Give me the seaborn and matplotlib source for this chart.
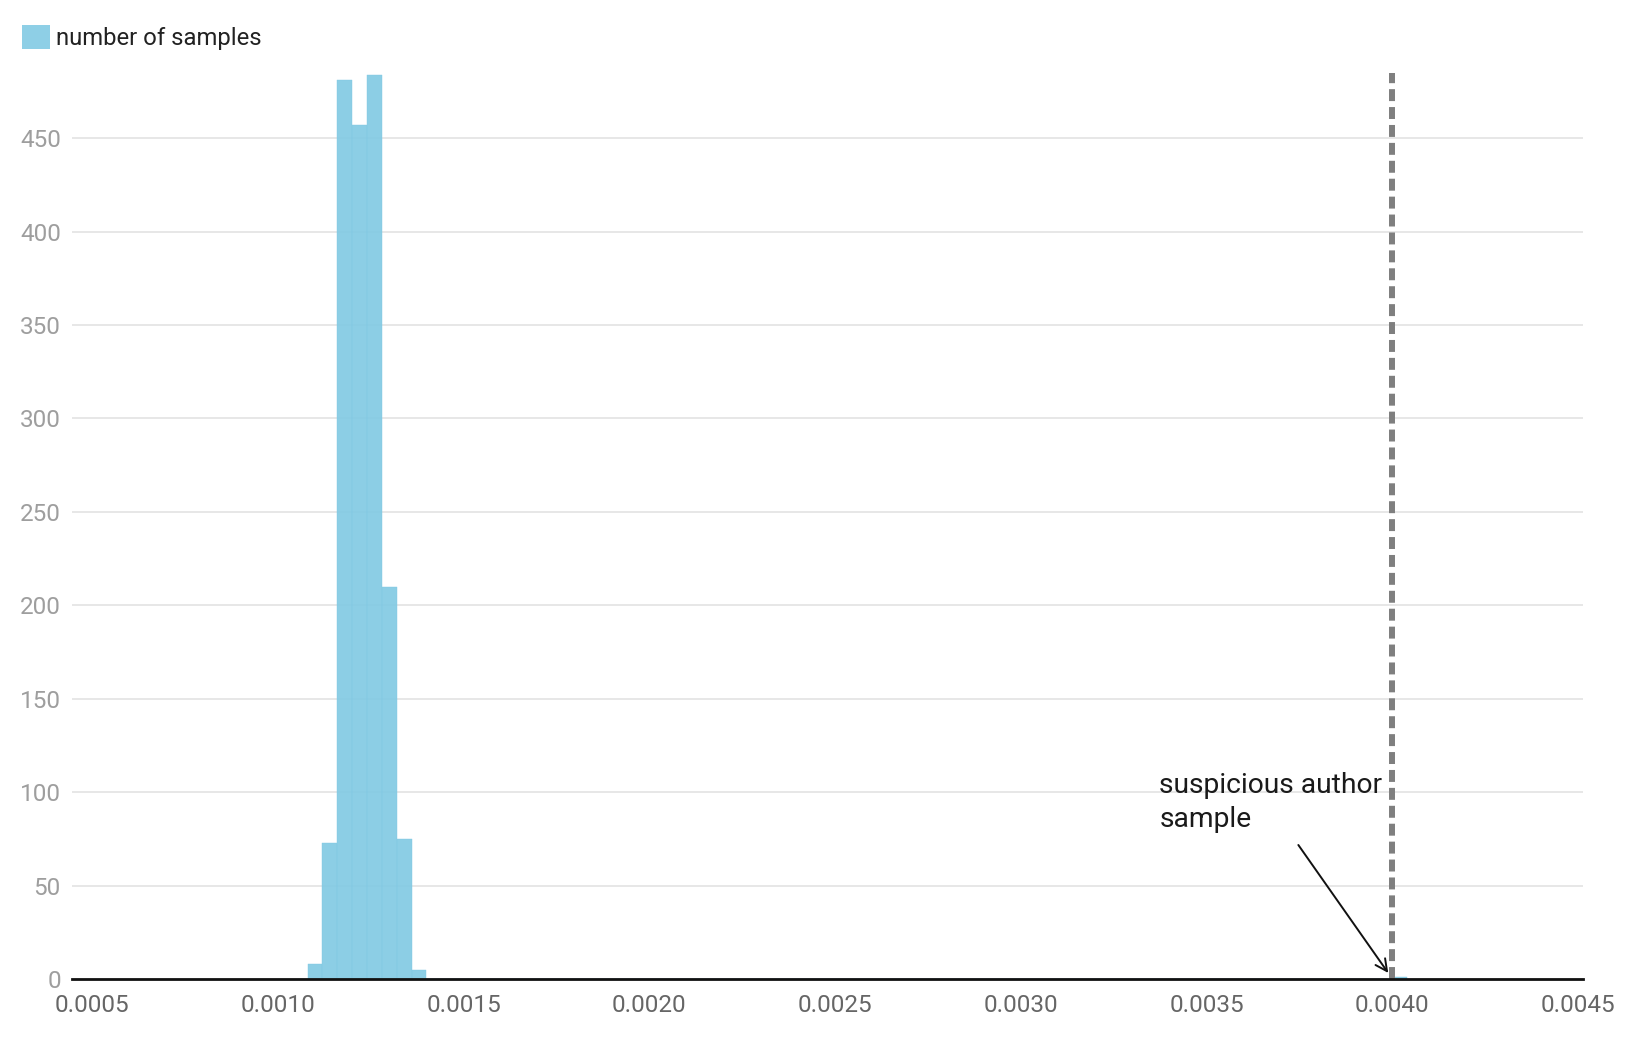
import matplotlib
matplotlib.use("Agg")
import matplotlib.pyplot as plt
from matplotlib.patches import Patch
import pandas as pd
import seaborn as sns

# histogram bins (left edges) and counts
bin_width = 0.00004
bin_lefts = [0.00108, 0.00112, 0.00116, 0.00120, 0.00124, 0.00128, 0.00132, 0.00136, 0.00400]
counts = [8, 73, 481, 457, 484, 210, 75, 5, 1]
suspicious_value = 0.0040

x_ticks = [0.0005, 0.0010, 0.0015, 0.0020, 0.0025, 0.0030, 0.0035, 0.0040, 0.0045]
y_ticks = [0, 50, 100, 150, 200, 250, 300, 350, 400, 450]

sns.set_theme(style="white")
plt.rcParams['font.family'] = ['Roboto', 'DejaVu Sans']

bar_color = "#80c9e3"
df = pd.DataFrame({"center": [b + bin_width / 2 for b in bin_lefts], "count": counts})

fig = plt.figure(figsize=(16.4, 10.4), dpi=100)
ax = fig.add_axes([0.0439, 0.0587, 0.9213, 0.8713])

sns.histplot(data=df, x="center", weights="count", binwidth=bin_width,
             binrange=(bin_lefts[0], bin_lefts[-1] + bin_width),
             color=bar_color, alpha=0.9, edgecolor=bar_color, linewidth=0.3, ax=ax)

ax.set_xlim(0.000446, 0.004513)
ax.set_ylim(0, 485)
ax.set_xticks(x_ticks)
ax.set_xticklabels([f"{t:.4f}" for t in x_ticks])
ax.set_yticks(y_ticks)
ax.set_xlabel("")
ax.set_ylabel("")
ax.grid(axis="y", color="#e0e0e0", linewidth=1.1, zorder=0)
ax.set_axisbelow(True)
for side in ["top", "right", "left"]:
    ax.spines[side].set_visible(False)
ax.spines["bottom"].set_color("#111111")
ax.spines["bottom"].set_linewidth(2)
ax.spines["bottom"].set_zorder(4)
ax.tick_params(axis="x", length=0, pad=11, labelsize=17.5, labelcolor="#666666")
ax.tick_params(axis="y", length=0, pad=8, labelsize=17.5, labelcolor="#9e9e9e")

# suspicious author marker
ax.axvline(suspicious_value, color="#7f7f7f", linewidth=4.3, linestyle=(0, (2, 1)), zorder=3)
ax.text(0.003373, 110.5, "suspicious author\nsample", ha="left", va="top",
        fontsize=20.3, color="#1a1a1a", linespacing=1.32)
ax.annotate("", xy=(0.003989, 3.2), xytext=(0.003747, 71.7),
            arrowprops=dict(arrowstyle="->", color="#111111", lw=1.4,
                            mutation_scale=21, shrinkA=0, shrinkB=0))

fig.legend(handles=[Patch(facecolor="#8ecfe6", edgecolor="none", label="number of samples")],
           loc="upper left", bbox_to_anchor=(0.0, 0.997), frameon=False,
           fontsize=17.2, handlelength=1.2, handleheight=1.2, handletextpad=0.25,
           labelcolor="#222222")

fig.savefig("out.png", dpi=100)
